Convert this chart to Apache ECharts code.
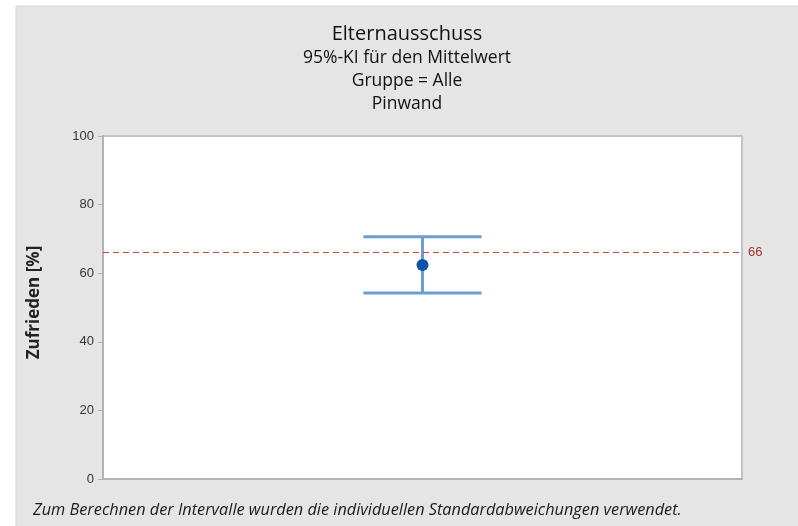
<!DOCTYPE html>
<html>
<head>
<meta charset="UTF-8">
<script src="https://cdn.jsdelivr.net/npm/echarts@6/dist/echarts.min.js"></script>
<title>Elternausschuss</title>
<style>
html, body {
	margin: 0;
	padding: 0;
	background: #ffffff;
}

#main {
	width: 798px;
	height: 526px;
}
</style>
</head>
<body>
	<div id="main"></div>
	<script>
		// Daten
		var categories = [ 'Pinwand' ];
		var means = [ 62.4 ];
		var lower = [ 54.2 ];
		var upper = [ 70.6 ];
		var refValue = 66;
		var yMin = 0, yMax = 100, yStep = 20;

		var ciData = categories.map(function(c, i) {
			return [ i, lower[i], upper[i] ];
		});
		var meanData = categories.map(function(c, i) {
			return [ i, means[i] ];
		});

		var font = '"Open Sans", "Noto Sans", sans-serif';

		// Titel mittig ueber dem grauen Feld
		function titleLine(text, y, size) {
			return {
				type : 'text',
				x : 407,
				y : y,
				style : {
					text : text,
					font : size + 'px ' + font,
					fill : '#111111',
					align : 'center',
					verticalAlign : 'middle'
				}
			};
		}

		var option = {
			animation : false,
			backgroundColor : '#ffffff',
			graphic : [ {
				type : 'rect',
				z : -10,
				shape : { x : 16, y : 6, width : 790, height : 530 },
				style : { fill : '#e5e5e5', stroke : '#d6d6d6', lineWidth : 1 }
			}, {
				type : 'text',
				left : 33,
				top : 502,
				style : {
					text : 'Zum Berechnen der Intervalle wurden die individuellen Standardabweichungen verwendet.',
					font : 'italic 16.3px ' + font,
					fill : '#1a1a1a'
				}
			},
				titleLine('Elternausschuss', 34, 20),
				titleLine('95%-KI für den Mittelwert', 58, 17.5),
				titleLine('Gruppe = Alle', 81, 17.5),
				titleLine('Pinwand', 104, 17.5)
			],
			grid : {
				left : 103,
				right : 56,
				top : 136,
				bottom : 47,
				show : true,
				backgroundColor : '#ffffff',
				borderColor : '#c4c4c4',
				borderWidth : 2
			},
			xAxis : {
				type : 'category',
				data : categories,
				axisLine : { show : true, lineStyle : { color : '#b3b3b3', width : 2 } },
				axisTick : { show : false },
				axisLabel : { show : false },
				splitLine : { show : false }
			},
			yAxis : {
				type : 'value',
				min : yMin,
				max : yMax,
				interval : yStep,
				name : 'Zufrieden [%]',
				nameLocation : 'middle',
				nameGap : 60,
				nameTextStyle : {
					fontFamily : font,
					fontSize : 17,
					fontWeight : 'bold',
					color : '#222222',
					padding : [ 0, 0, 0, 10 ]
				},
				axisLine : { show : true, lineStyle : { color : '#b3b3b3', width : 2 } },
				axisTick : { show : true, length : 5, lineStyle : { color : '#b3b3b3' } },
				axisLabel : {
					fontFamily : 'Liberation Sans, Arial, sans-serif',
					fontSize : 13,
					color : '#333333',
					margin : 9
				},
				splitLine : { show : false }
			},
			series : [ {
				type : 'custom',
				name : 'KI',
				data : ciData,
				z : 3,
				renderItem : function(params, api) {
					var x = api.value(0);
					var lo = api.coord([ x, api.value(1) ]);
					var hi = api.coord([ x, api.value(2) ]);
					var half = api.size([ 1, 0 ])[0] * 0.0925;
					var st = { stroke : '#6b9fd3', lineWidth : 3 };
					return {
						type : 'group',
						children : [ {
							type : 'line',
							shape : { x1 : lo[0], y1 : lo[1], x2 : hi[0], y2 : hi[1] },
							style : st
						}, {
							type : 'line',
							shape : { x1 : hi[0] - half, y1 : hi[1], x2 : hi[0] + half, y2 : hi[1] },
							style : st
						}, {
							type : 'line',
							shape : { x1 : lo[0] - half, y1 : lo[1], x2 : lo[0] + half, y2 : lo[1] },
							style : st
						} ]
					};
				}
			}, {
				type : 'scatter',
				name : 'Mittelwert',
				data : meanData,
				symbol : 'circle',
				symbolSize : 12,
				z : 4,
				itemStyle : { color : '#0a55a8', opacity : 1 },
				markLine : {
					silent : true,
					symbol : 'none',
					lineStyle : { color : '#d9413f', type : [ 6, 4 ], width : 1.2 },
					label : {
						position : 'end',
						formatter : String(refValue),
						color : '#a8322f',
						fontFamily : 'Liberation Sans, Arial, sans-serif',
						fontSize : 13,
						distance : 6
					},
					data : [ { yAxis : refValue } ]
				}
			} ]
		};

		var mychart = echarts.init(document.getElementById('main'));
		mychart.setOption(option);
	</script>
</body>
</html>
